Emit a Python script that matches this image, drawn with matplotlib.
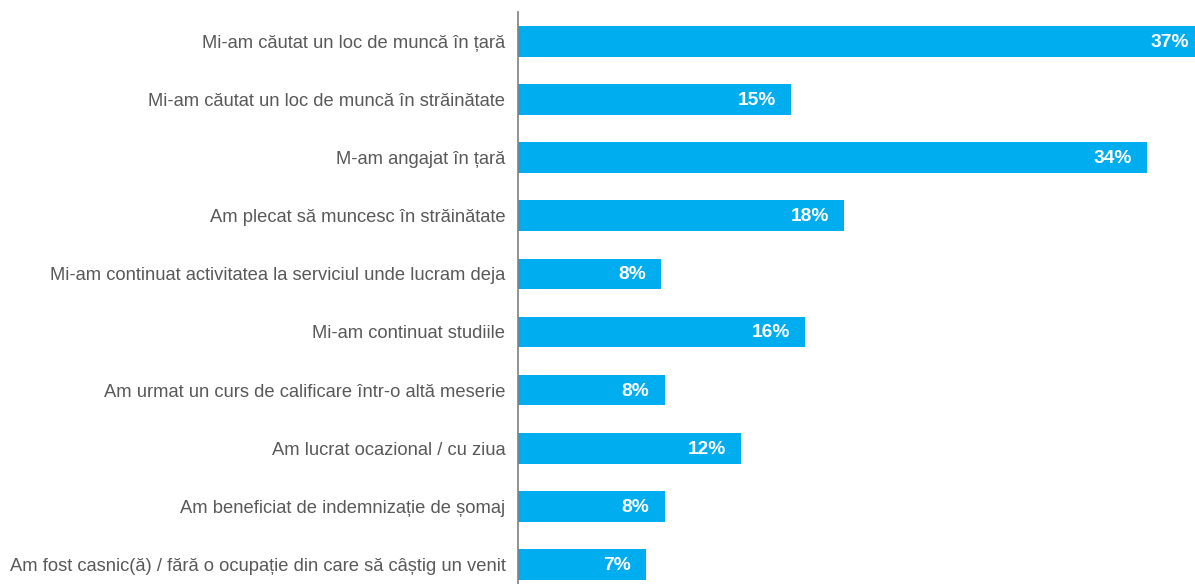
import matplotlib
matplotlib.use("Agg")
import matplotlib.pyplot as plt

# answers, top to bottom
categories = [
    "Mi-am căutat un loc de muncă în țară",
    "Mi-am căutat un loc de muncă în străinătate",
    "M-am angajat în țară",
    "Am plecat să muncesc în străinătate",
    "Mi-am continuat activitatea la serviciul unde lucram deja",
    "Mi-am continuat studiile",
    "Am urmat un curs de calificare într-o altă meserie",
    "Am lucrat ocazional / cu ziua",
    "Am beneficiat de indemnizație de șomaj",
    "Am fost casnic(ă) / fără o ocupație din care să câștig un venit",
]
values = [37.0, 14.7, 33.9, 17.6, 7.7, 15.5, 7.9, 12.0, 7.9, 6.9]
value_labels = ["37%", "15%", "34%", "18%", "8%", "16%", "8%", "12%", "8%", "7%"]

BAR = "#00AEEF"
GREY = "#595959"

plt.rcParams["font.family"] = ["Liberation Sans", "DejaVu Sans"]

fig = plt.figure(figsize=(11.95, 5.84), dpi=100)
ax = fig.add_axes([518 / 1195, 0, 1 - 518 / 1195, 1 - 12 / 584])

pos = list(range(len(categories)))
ax.barh(pos, values, height=0.53, color=BAR, zorder=2)
ax.set_ylim(9.34, -0.51)
ax.set_xlim(0, 36.5)

for p, v, lab in zip(pos, values, value_labels):
    ax.annotate(lab, (v, p), xytext=(-15, -1), textcoords="offset pixels",
                ha="right", va="center", color="white", fontsize=13.8,
                fontweight="bold", annotation_clip=False)

ax.set_yticks(pos)
ax.set_yticklabels(categories, fontsize=13.2, color=GREY)
ax.tick_params(axis="y", length=0, pad=9)
ax.set_xticks([])
for s in ("top", "right", "bottom"):
    ax.spines[s].set_visible(False)
ax.spines["left"].set_color("#808080")
ax.spines["left"].set_linewidth(1.2)

fig.savefig("out.png", dpi=100)
